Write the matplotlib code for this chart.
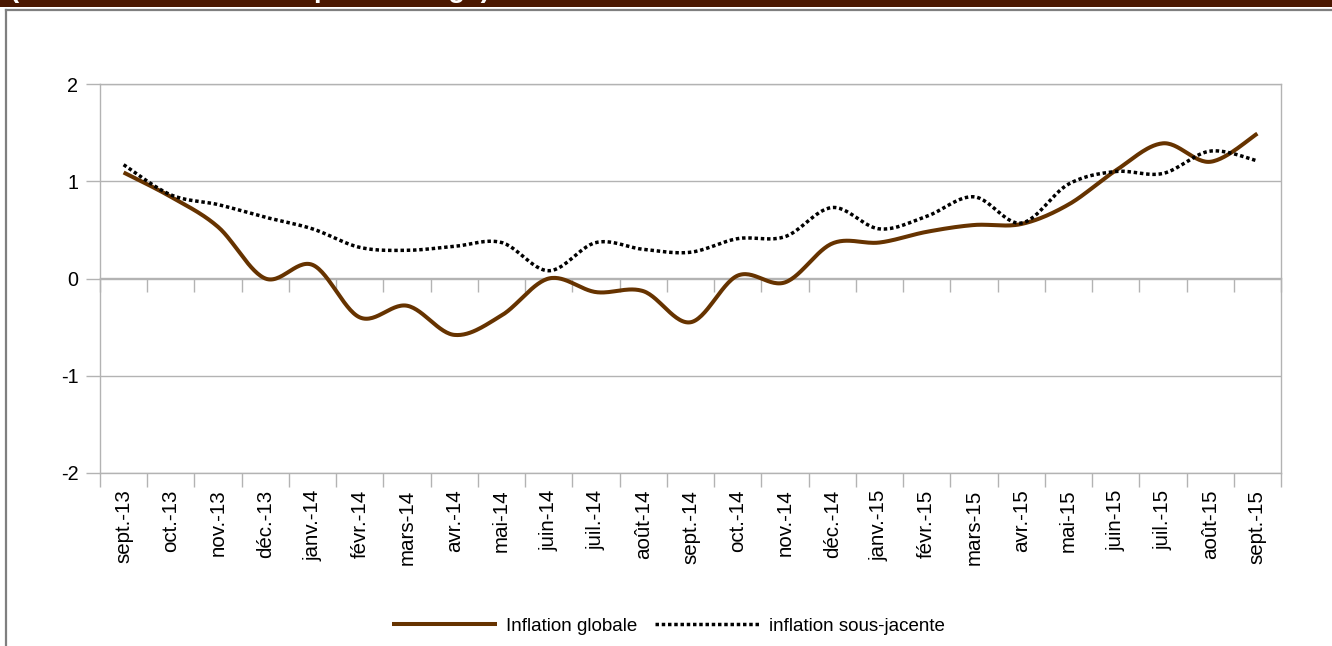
import numpy as np
import matplotlib
matplotlib.use("Agg")
import matplotlib.pyplot as plt
from matplotlib.patches import Rectangle
from matplotlib.lines import Line2D

plt.rcParams['font.family'] = ['Liberation Sans', 'DejaVu Sans']

# ---- data ----
categories = ['sept.-13', 'oct.-13', 'nov.-13', 'déc.-13', 'janv.-14', 'févr.-14', 'mars-14',
              'avr.-14', 'mai-14', 'juin-14', 'juil.-14', 'août-14', 'sept.-14', 'oct.-14',
              'nov.-14', 'déc.-14', 'janv.-15', 'févr.-15', 'mars-15', 'avr.-15', 'mai-15',
              'juin-15', 'juil.-15', 'août-15', 'sept.-15']
inflation_globale = [1.09, 0.84, 0.53, 0.00, 0.14, -0.40, -0.28, -0.58, -0.38, 0.00, -0.14,
                     -0.13, -0.45, 0.03, -0.04, 0.36, 0.37, 0.48, 0.55, 0.56, 0.76, 1.11,
                     1.39, 1.20, 1.49]
inflation_sous_jacente = [1.17, 0.86, 0.76, 0.63, 0.51, 0.32, 0.29, 0.33, 0.37, 0.08, 0.37,
                          0.30, 0.27, 0.41, 0.43, 0.73, 0.51, 0.64, 0.84, 0.57, 0.97, 1.10,
                          1.08, 1.31, 1.21]
y_ticks = [-2, -1, 0, 1, 2]
title = "(Glissement annuel en pourcentage)"


def smooth(xv, yv, n=30):
    """Bezier smoothing through the points (Catmull-Rom style, like spreadsheet charts)."""
    p = np.column_stack([np.asarray(xv, float), np.asarray(yv, float)])
    m = len(p)
    out = []
    for i in range(m - 1):
        p0 = p[i - 1] if i > 0 else p[i]
        p1 = p[i]
        p2 = p[i + 1]
        p3 = p[i + 2] if i + 2 < m else p[i + 1]
        c1 = p1 + (p2 - p0) / 6.0
        c2 = p2 - (p3 - p1) / 6.0
        t = np.linspace(0, 1, n, endpoint=(i == m - 2))[:, None]
        seg = ((1 - t) ** 3) * p1 + 3 * ((1 - t) ** 2) * t * c1 + 3 * (1 - t) * t ** 2 * c2 + t ** 3 * p2
        out.append(seg)
    s = np.vstack(out)
    return s[:, 0], s[:, 1]


W, H = 1332, 646
fig = plt.figure(figsize=(W / 100, H / 100), dpi=100)
fig.patch.set_facecolor('white')

# top dark bar with clipped title
fig.patches.append(Rectangle((0, 1 - 7 / H), 1, 7 / H, transform=fig.transFigure,
                             facecolor='#4a1700', edgecolor='none', zorder=0))
fig.text(10 / W, 1 + 3 / H, title, color='white', fontsize=20, fontweight='bold',
         ha='left', va='baseline')

# outer frame lines
fig.add_artist(Line2D([6 / W, 1.0], [1 - 10 / H, 1 - 10 / H], transform=fig.transFigure,
                      color='#7f7f7f', lw=1.6))
fig.add_artist(Line2D([6 / W, 6 / W], [0, 1 - 10 / H], transform=fig.transFigure,
                      color='#7f7f7f', lw=1.6))

ax = fig.add_axes([100 / W, 1 - 473 / H, (1281 - 100) / W, (473 - 84) / H])
ax.set_xlim(-0.5, len(categories) - 0.5)
ax.set_ylim(-2, 2)

grey = '#b3b3b3'
for s in ax.spines.values():
    s.set_color(grey)
    s.set_linewidth(1)

ax.set_yticks(y_ticks)
ax.set_yticklabels([str(v) for v in y_ticks])
ax.yaxis.grid(True, color=grey, lw=1)
ax.set_axisbelow(True)
ax.tick_params(axis='y', length=10, color=grey, width=1, pad=5.5, labelsize=14.2)

x = np.arange(len(categories))
ax.set_xticks(np.arange(-0.5, len(categories), 1.0))
ax.set_xticklabels([])
ax.set_xticks(x, minor=True)
ax.set_xticklabels(categories, minor=True, rotation=90)
ax.tick_params(axis='x', which='major', length=10, color=grey, width=1, direction='out')
ax.tick_params(axis='x', which='minor', length=0, pad=12, labelsize=14.8)

# category axis crossing at 0 with tick marks
sec = ax.secondary_xaxis(0.5)
try:
    sec.set_alignment('bottom')
except Exception:
    pass
sec.set_xticks(np.arange(-0.5, len(categories), 1.0))
sec.tick_params(axis='x', length=10, color=grey, width=1, direction='out',
                labelbottom=False, labeltop=False)
for s in sec.spines.values():
    s.set_color(grey)
    s.set_linewidth(1)

xs, ys = smooth(x, inflation_globale)
ax.plot(xs, ys, color='#663300', lw=2.9, solid_capstyle='butt', label='Inflation globale',
        zorder=3)
xs2, ys2 = smooth(x, inflation_sous_jacente)
ax.plot(xs2, ys2, color='black', lw=2.5, linestyle=(0, (1, 0.8)), dash_capstyle='butt',
        label='inflation sous-jacente', zorder=4)

handles, labels = ax.get_legend_handles_labels()
fig.legend(handles, labels, loc='center', bbox_to_anchor=(668.5 / W, 1 - 626 / H), ncol=2,
           frameon=False, handlelength=5.6, handletextpad=0.5, columnspacing=0.9,
           fontsize=13.5)

fig.savefig('out.png', dpi=100)
